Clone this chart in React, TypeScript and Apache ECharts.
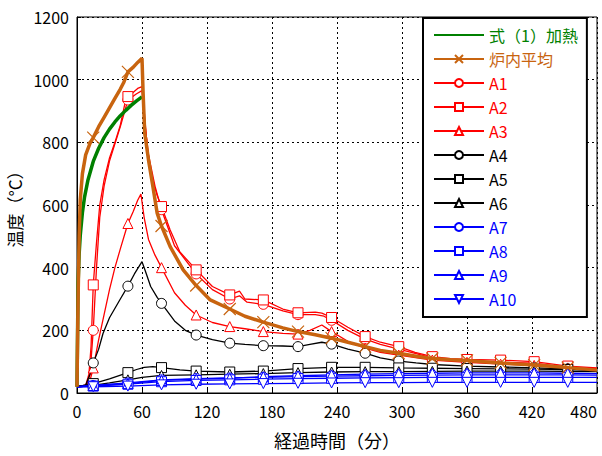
import React, { useEffect, useRef } from "react";
import * as echarts from "echarts";

const X_TICKS = [0, 60, 120, 180, 240, 300, 360, 420, 480];
const Y_TICKS = [0, 200, 400, 600, 800, 1000, 1200];
const MARK_T = [15, 47, 78, 110, 141, 172, 204, 235, 266, 297, 328, 360, 391, 422, 453];

const ISO_DATA = [[0, 20], [1, 349], [2, 445], [3, 502], [5, 576], [7, 626], [10, 678], [15, 739], [20, 781], [25, 815], [30, 842], [35, 865], [40, 885], [45, 902], [50, 918], [55, 932], [60, 945]];
const FURNACE_DATA = [[0, 20], [1, 300], [2, 500], [3, 616], [5, 700], [8, 760], [12, 797], [15, 815], [20, 850], [25, 880], [30, 910], [35, 940], [40, 970], [43, 990], [47, 1025], [52, 1040], [56, 1055], [60, 1068], [61, 960], [62.5, 830], [66, 744], [70, 660], [74, 574], [78, 533], [86, 467], [98, 393], [110, 343], [123, 297], [141, 268], [155, 245], [172, 226], [190, 208], [204, 196], [220, 186], [235, 175], [250, 162], [266, 148], [280, 136], [297, 127], [313, 117], [328, 110], [345, 106], [360, 104], [391, 96], [422, 89], [453, 81], [480, 73]];
const A1_DATA = [[0, 20], [9, 25], [12, 60], [15, 200], [18, 400], [21, 560], [25, 660], [30, 740], [40, 850], [47, 935], [55, 955], [60, 965], [62, 880], [66, 760], [72, 660], [78, 585], [90, 470], [110, 380], [125, 330], [141, 300], [150, 310], [157, 290], [172, 283], [190, 262], [204, 250], [220, 250], [228, 245], [235, 232], [250, 200], [266, 172], [280, 155], [297, 140], [328, 112], [360, 100], [391, 98], [422, 95], [453, 82], [480, 78]];
const A2_DATA = [[0, 20], [8, 25], [11, 60], [13, 150], [15, 345], [18, 480], [21, 600], [25, 680], [30, 750], [35, 800], [40, 855], [44, 920], [47, 946], [52, 960], [56, 972], [60, 978], [62, 900], [65, 780], [69, 690], [74, 630], [78, 595], [86, 520], [95, 450], [110, 393], [125, 340], [141, 313], [150, 325], [155, 300], [172, 297], [190, 268], [204, 256], [220, 258], [226, 255], [235, 241], [250, 210], [266, 180], [280, 162], [297, 148], [312, 130], [328, 116], [345, 110], [360, 107], [391, 105], [422, 100], [453, 86], [480, 80]];
const A3_DATA = [[0, 20], [8, 22], [12, 40], [15, 80], [20, 170], [25, 250], [30, 330], [35, 400], [40, 460], [47, 541], [52, 580], [56, 615], [59, 635], [62, 560], [66, 490], [72, 440], [78, 400], [90, 320], [100, 280], [110, 249], [125, 225], [141, 212], [155, 205], [172, 196], [190, 190], [204, 188], [215, 200], [226, 217], [235, 196], [250, 165], [266, 143], [280, 130], [297, 121], [328, 105], [360, 98], [391, 92], [422, 88], [453, 80], [480, 72]];
const A4_DATA = [[0, 20], [8, 25], [12, 60], [15, 96], [20, 140], [24, 190], [30, 240], [40, 300], [47, 341], [53, 380], [60, 419], [63, 390], [68, 340], [74, 305], [78, 286], [90, 230], [100, 200], [110, 185], [125, 170], [141, 159], [155, 155], [172, 151], [190, 150], [204, 148], [215, 155], [226, 162], [235, 156], [250, 140], [266, 127], [280, 112], [297, 102], [313, 96], [328, 91], [360, 86], [391, 83], [422, 80], [453, 77], [480, 72]];
const A5_DATA = [[0, 20], [15, 30], [30, 45], [47, 65], [55, 75], [62, 82], [70, 84], [78, 81], [95, 74], [110, 70], [141, 67], [172, 70], [204, 78], [235, 82], [266, 82], [297, 80], [328, 79], [360, 78], [391, 77], [422, 76], [453, 75], [480, 72]];
const A6_DATA = [[0, 20], [15, 24], [30, 32], [47, 42], [60, 50], [78, 56], [110, 58], [141, 60], [172, 62], [204, 65], [235, 67], [266, 68], [297, 68], [328, 69], [360, 70], [391, 70], [422, 70], [453, 69], [480, 68]];
const A7_DATA = [[0, 20], [15, 24], [47, 32], [78, 42], [110, 46], [141, 48], [172, 50], [204, 52], [235, 54], [266, 55], [297, 56], [328, 57], [360, 58], [391, 58], [422, 58], [453, 58], [480, 57]];
const A8_DATA = [[0, 20], [15, 22], [47, 28], [78, 36], [110, 40], [141, 42], [172, 44], [204, 46], [235, 47], [266, 48], [297, 49], [328, 50], [360, 50], [391, 50], [422, 50], [453, 50], [480, 50]];
const A9_DATA = [[0, 20], [15, 24], [47, 30], [78, 40], [110, 44], [141, 47], [172, 52], [204, 55], [235, 58], [266, 60], [297, 62], [328, 63], [360, 64], [391, 64], [422, 64], [453, 63], [480, 62]];
const A10_DATA = [[0, 20], [15, 20], [47, 22], [78, 26], [110, 28], [141, 29], [172, 30], [204, 31], [235, 32], [266, 33], [297, 33], [328, 34], [360, 34], [391, 34], [422, 34], [453, 34], [480, 34]];

const SERIES_NAMES = ["式（1）加熱", "炉内平均", "A1", "A2", "A3", "A4", "A5", "A6", "A7", "A8", "A9", "A10"];

const GREEN = "#008000";
const ORANGE = "#c8640f";
const RED = "#ff0000";
const BLACK = "#000000";
const BLUE = "#0000ff";
const FONT = "'Noto Sans CJK JP', 'Noto Sans', sans-serif";

const CROSS = "path://M0,0L10,10M10,0L0,10";
const DOWN_TRI = "path://M0,0L10,0L5,10Z";

function toItems(data: number[][]) {
  return data.map(([t, v]) =>
    MARK_T.includes(t) ? { value: [t, v] } : { value: [t, v], symbol: "none" }
  );
}

function sensor(name: string, data: number[][], color: string, symbol: string) {
  return {
    name,
    type: "line",
    data: toItems(data),
    symbol,
    symbolSize: 10,
    showSymbol: true,
    showAllSymbol: true,
    lineStyle: { color, width: 1.3 },
    itemStyle: { color: "#ffffff", borderColor: color, borderWidth: 1 },
    z: 2,
  };
}

export default function App() {
  const ref = useRef<HTMLDivElement>(null);
  useEffect(() => {
    if (!ref.current) return;
    const chart = echarts.init(ref.current, null, { renderer: "svg" });
    const colors: Record<string, string> = {
      "式（1）加熱": GREEN, "炉内平均": ORANGE, A1: RED, A2: RED, A3: RED,
      A4: BLACK, A5: BLACK, A6: BLACK, A7: BLUE, A8: BLUE, A9: BLUE, A10: BLUE,
    };
    chart.setOption({
      animation: false,
      textStyle: { fontFamily: FONT },
      grid: {
        left: 77, top: 17, right: 5, bottom: 63, show: true, borderColor: "#000", borderWidth: 1,
        backgroundColor: "#fff", containLabel: false, outerBoundsMode: "none",
      },
      xAxis: {
        type: "value", min: X_TICKS[0], max: X_TICKS[X_TICKS.length - 1], interval: 60,
        name: "経過時間（分）", nameLocation: "middle", nameGap: 38,
        nameTextStyle: { color: "#000", fontSize: 18, fontFamily: FONT },
        axisLine: { lineStyle: { color: "#000" } },
        axisTick: { inside: true, length: 4, lineStyle: { color: "#000" } },
        axisLabel: {
          color: "#000", fontSize: 16, margin: 10, fontFamily: FONT,
          formatter: (v: number) => String(v), alignMaxLabel: "right",
        },
        splitLine: { show: true, lineStyle: { color: "#000", type: [2, 3], width: 1 } },
      },
      yAxis: {
        type: "value", min: Y_TICKS[0], max: Y_TICKS[Y_TICKS.length - 1], interval: 200,
        name: "温度（°C）", nameLocation: "middle", nameGap: 52, nameRotate: 90,
        nameTextStyle: { color: "#000", fontSize: 17, fontFamily: FONT },
        axisLine: { show: true, lineStyle: { color: "#000" } },
        axisTick: { show: true, inside: true, length: 4, lineStyle: { color: "#000" } },
        axisLabel: { color: "#000", fontSize: 16, margin: 8, fontFamily: FONT, formatter: (v: number) => String(v) },
        splitLine: { show: true, lineStyle: { color: "#000", type: [2, 3], width: 1 } },
      },
      legend: {
        orient: "vertical", left: 423, top: 18,
        padding: [9, 9, 10, 10], itemGap: 8, itemWidth: 50, itemHeight: 10,
        backgroundColor: "#fff", borderColor: "#000", borderWidth: 2,
        textStyle: { fontSize: 16, lineHeight: 16, fontFamily: FONT },
        data: SERIES_NAMES.map((n, i) =>
          i === 0
            ? { name: n, textStyle: { color: colors[n] }, itemStyle: { opacity: 0 } }
            : { name: n, textStyle: { color: colors[n] } }
        ),
      },
      series: [
        sensor("A1", A1_DATA, RED, "circle"),
        sensor("A2", A2_DATA, RED, "rect"),
        sensor("A3", A3_DATA, RED, "triangle"),
        sensor("A4", A4_DATA, BLACK, "circle"),
        sensor("A5", A5_DATA, BLACK, "rect"),
        sensor("A6", A6_DATA, BLACK, "triangle"),
        sensor("A7", A7_DATA, BLUE, "circle"),
        sensor("A8", A8_DATA, BLUE, "rect"),
        sensor("A9", A9_DATA, BLUE, "triangle"),
        sensor("A10", A10_DATA, BLUE, DOWN_TRI),
        {
          name: "式（1）加熱", type: "line", data: ISO_DATA, symbol: "none", showSymbol: false,
          lineStyle: { color: GREEN, width: 3.5 }, itemStyle: { color: GREEN }, z: 3,
        },
        {
          name: "炉内平均", type: "line", data: toItems(FURNACE_DATA), symbol: CROSS, symbolSize: 12,
          showSymbol: true, showAllSymbol: true,
          lineStyle: { color: ORANGE, width: 3.5 },
          itemStyle: { color: ORANGE, borderColor: ORANGE, borderWidth: 1.2 }, z: 4,
        },
      ],
    });
    return () => chart.dispose();
  }, []);
  return <div ref={ref} style={{ width: 602, height: 456, position: "absolute", left: 0, top: 0 }} />;
}
